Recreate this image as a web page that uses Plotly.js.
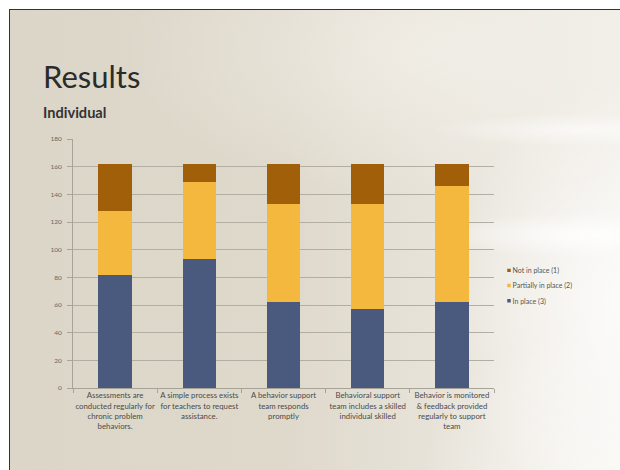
<!DOCTYPE html>
<html>
<head>
<meta charset="utf-8">
<script src="https://cdn.plot.ly/plotly-3.0.1.min.js"></script>
<style>
  html, body { margin: 0; padding: 0; background: #ffffff; width: 620px; height: 470px; overflow: hidden; }
  #slide {
    position: absolute; left: 9px; top: 9px; width: 611px; height: 461px;
    border-top: 1.5px solid #333; border-left: 1.5px solid #333;
    background:
      radial-gradient(ellipse 230px 30px at 590px 225px, rgba(255,255,255,0.85), rgba(255,255,255,0) 75%),
      radial-gradient(ellipse 200px 22px at 570px 120px, rgba(255,255,255,0.6), rgba(255,255,255,0) 75%),
      radial-gradient(ellipse 300px 320px at 640px 290px, rgba(255,255,255,0.9), rgba(255,255,255,0) 70%),
      radial-gradient(ellipse 260px 200px at 620px 470px, rgba(250,249,246,0.95), rgba(250,249,246,0) 80%),
      radial-gradient(ellipse 420px 200px at 430px 40px, rgba(245,242,235,0.7), rgba(245,242,235,0) 75%),
      linear-gradient(90deg, #dcd6c8 0%, #dfd9cc 45%, #e9e5dc 75%, #f1eee8 100%);
  }
  #chart { position: absolute; left: 0; top: 0; width: 620px; height: 470px; }
  #chart .legend .scrollbox { transform: scale(0.8); }
  #chart .legend .legendpoints path { transform-box: fill-box; transform-origin: center; transform: translateX(20px) scale(0.36); }
  #chart .legend .legendtext { transform: translateX(-15.5px); }
</style>
</head>
<body>
<div id="slide"></div>
<div id="chart"></div>
<script>
// ---- data ----
const categories = [
  "Assessments are<br>conducted regularly for<br>chronic problem<br>behaviors.",
  "A simple process exists<br>for teachers to request<br>assistance.",
  "A behavior support<br>team responds<br>promptly",
  "Behavioral support<br>team includes a skilled<br>individual skilled",
  "Behavior is monitored<br>& feedback provided<br>regularly to support<br>team"
];
const seriesNames = ["In place (3)", "Partially in place (2)", "Not in place (1)"];
const inPlace    = [82, 93, 62, 57, 62];
const partially  = [46, 56, 71, 76, 84];
const notInPlace = [34, 13, 29, 29, 16];
const yTicks = [0, 20, 40, 60, 80, 100, 120, 140, 160, 180];

const colors = ["#4a5a7e", "#f4b83f", "#a05f08"];
const seriesValues = [inPlace, partially, notInPlace];

const traces = seriesValues.map((vals, i) => ({
  type: "bar",
  name: seriesNames[i],
  x: categories,
  y: vals,
  marker: { color: colors[i], line: { width: 0 } },
  hoverinfo: "skip"
}));

const fontFam = "Lato, 'Open Sans', sans-serif";

const layout = {
  width: 620, height: 470,
  paper_bgcolor: "rgba(0,0,0,0)",
  plot_bgcolor: "rgba(0,0,0,0)",
  barmode: "stack",
  bargap: 0.605,
  margin: { l: 73, r: 125.5, t: 139, b: 82.3, pad: 0, autoexpand: false },
  font: { family: fontFam, color: "#444" },
  showlegend: true,
  legend: {
    x: 0.9976, xanchor: "left", y: 0.519, yanchor: "top",
    traceorder: "reversed",
    font: { size: 8.75, color: "#555", family: fontFam },
    bgcolor: "rgba(0,0,0,0)",
    itemwidth: 30, tracegroupgap: 0
  },
  xaxis: {
    type: "category",
    tickson: "boundaries",
    tickangle: 0,
    automargin: false,
    ticks: "outside", ticklen: 4, tickcolor: "#a8a398",
    showline: true, linecolor: "#a8a398", linewidth: 1,
    showgrid: false,
    tickfont: { size: 7.8, color: "#4a4a4a", family: fontFam },
    fixedrange: true
  },
  yaxis: {
    range: [0, 180],
    tickvals: yTicks,
    ticktext: yTicks.map(String),
    automargin: false,
    ticks: "outside", ticklen: 5, tickcolor: "#a8a398",
    ticklabelstandoff: 4,
    showline: true, linecolor: "#a8a398", linewidth: 1,
    showgrid: true, gridcolor: "#b3aea3", gridwidth: 1,
    zeroline: false,
    tickfont: { size: 6.5, color: "#666", family: fontFam },
    fixedrange: true
  },
  annotations: [
    { text: "Results", xref: "paper", yref: "paper", x: -0.0755, y: 1.255,
      xanchor: "left", yanchor: "middle", showarrow: false,
      font: { size: 31, color: "#2b2b2b", family: fontFam } },
    { text: "<b>Individual</b>", xref: "paper", yref: "paper", x: -0.0755, y: 1.105,
      xanchor: "left", yanchor: "middle", showarrow: false,
      font: { size: 14.6, color: "#333", family: fontFam } }
  ]
};

Plotly.newPlot("chart", traces, layout, { displayModeBar: false, staticPlot: true });
</script>
</body>
</html>
